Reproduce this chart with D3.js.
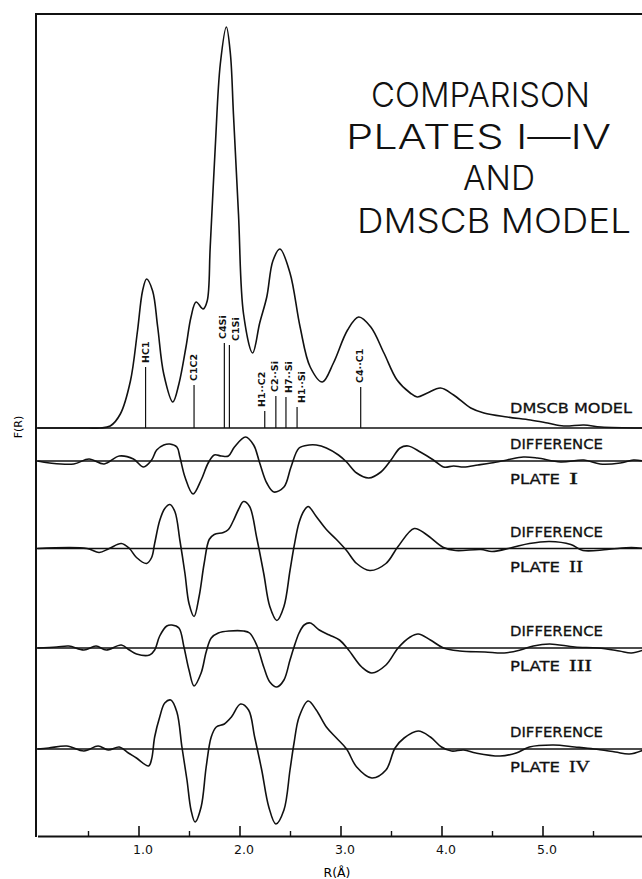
<!DOCTYPE html>
<html>
<head>
<meta charset="utf-8">
<script src="https://cdn.jsdelivr.net/npm/d3@7"></script>
<style>
  html, body { margin: 0; padding: 0; background: #fff; }
  svg { display: block; }
  .title { font-family: Inter, "Liberation Sans", Arial, sans-serif; font-weight: 300; font-size: 34px; fill: #111; }
  .tag { font-family: "DejaVu Sans", sans-serif; font-size: 14.5px; fill: #111; stroke: #111; stroke-width: 0.3px; }
  .numeral { font-family: "Liberation Serif", "DejaVu Serif", serif; font-size: 16px; fill: #111; stroke: #111; stroke-width: 0.3px; }
  .stick-label { font-family: "DejaVu Sans", sans-serif; font-size: 9.5px; font-weight: bold; fill: #111; }
  .axis text { font-family: "DejaVu Sans", sans-serif; font-size: 12.5px; fill: #111; }
</style>
</head>
<body>
<svg id="chart" width="642" height="879"></svg>
<script>
// R (Angstrom) ticks
const majorTicks = [1, 2, 3, 4, 5];
const minorTicks = [0.5, 1.5, 2.5, 3.5, 4.5, 5.5];

// DMSCB model radial distribution curve
const modelR = [0, 0.5, 0.62, 0.72, 0.82, 0.92, 0.99, 1.04, 1.08, 1.14, 1.19, 1.25, 1.34, 1.40, 1.47, 1.52, 1.57, 1.64, 1.68, 1.71, 1.76, 1.81, 1.87, 1.91, 1.94, 1.99, 2.04, 2.13, 2.20, 2.27, 2.33, 2.40, 2.50, 2.60, 2.70, 2.82, 2.93, 3.07, 3.18, 3.30, 3.43, 3.56, 3.69, 3.76, 3.86, 3.99, 4.12, 4.29, 4.42, 4.65, 4.88, 5.05, 5.21, 5.41, 5.58, 6.0];
const modelF = [0, 0, 0, 0.2, 1.4, 4.7, 9.7, 13.7, 14.9, 13.7, 10.1, 5.4, 2.6, 4.4, 8.1, 11.1, 12.6, 11.9, 12.7, 18.1, 28.1, 36.4, 40.1, 37.4, 31.4, 21.4, 11.4, 7.5, 10.5, 13.1, 16.7, 17.9, 15.5, 10.1, 6.1, 4.6, 6.5, 9.8, 11.1, 10.1, 7.5, 4.8, 3.5, 3.1, 3.5, 4.0, 3.3, 2.0, 1.5, 1.1, 0.8, 0.5, 0.2, 0.3, 0.1, 0];

// model distances (stick lines)
const stickLabels = ["HC1", "C1C2", "C4Si", "C1Si", "H1··C2", "C2··Si", "H7··Si", "H1··Si", "C4··C1"];
const stickR = [1.07, 1.55, 1.85, 1.90, 2.25, 2.36, 2.46, 2.57, 3.20];
const stickF = [6.1, 4.3, 8.5, 8.3, 1.7, 3.2, 3.1, 2.1, 4.1];

// difference curves, plate minus model
const plateNames = ["I", "II", "III", "IV"];
const p1R = [0, 0.12, 0.36, 0.51, 0.66, 0.81, 0.95, 1.05, 1.13, 1.18, 1.25, 1.31, 1.38, 1.41, 1.46, 1.54, 1.62, 1.69, 1.75, 1.82, 1.89, 1.95, 2.06, 2.14, 2.20, 2.27, 2.34, 2.44, 2.51, 2.59, 2.69, 2.76, 2.86, 2.98, 3.06, 3.16, 3.28, 3.40, 3.50, 3.59, 3.67, 3.79, 3.92, 4.02, 4.12, 4.22, 4.36, 4.49, 4.65, 4.81, 4.95, 5.18, 5.41, 5.57, 5.77, 5.90, 6.0];
const p1D = [0, -0.2, -0.3, 0.2, -0.3, 0.5, 0.2, -0.6, 0.1, 1.1, 1.6, 1.7, 1.4, 0.4, -1.6, -3.3, -1.9, -0.2, 0.6, 0.5, 0.5, 1.4, 2.4, 1.6, -0.2, -2.2, -3.1, -2.6, -0.6, 1.3, 1.6, 1.6, 1.3, 0.6, -0.1, -1.2, -1.7, -1.1, 0.1, 1.3, 1.5, 0.9, 0.1, -0.6, -0.5, -0.6, -0.4, -0.2, 0.1, 0.4, 0.3, -0.1, 0.1, -0.3, -0.2, 0.1, 0];
const p2R = [0, 0.49, 0.61, 0.71, 0.83, 0.91, 0.98, 1.08, 1.13, 1.16, 1.21, 1.26, 1.31, 1.36, 1.41, 1.46, 1.50, 1.55, 1.60, 1.65, 1.70, 1.75, 1.84, 1.89, 1.94, 1.99, 2.04, 2.10, 2.17, 2.24, 2.30, 2.37, 2.44, 2.50, 2.54, 2.59, 2.64, 2.68, 2.76, 2.86, 2.96, 3.06, 3.16, 3.29, 3.45, 3.57, 3.73, 3.85, 4.02, 4.14, 4.39, 4.50, 4.70, 4.87, 5.07, 5.28, 5.40, 5.64, 5.88, 6.0];
const p2D = [0, 0, -0.4, 0.0, 0.5, 0, -0.9, -1.5, -0.9, 0.5, 2.8, 4.0, 4.4, 3.7, 0.8, -2.5, -5.5, -6.8, -4.8, -1.5, 0.9, 1.4, 1.6, 1.9, 2.8, 3.9, 4.7, 4.2, 1.1, -2.5, -5.8, -7.2, -5.8, -2.2, 0.2, 2.6, 3.8, 4.2, 3.2, 1.9, 0.9, -0.2, -1.5, -2.2, -1.5, 0.2, 2.0, 1.4, 0.1, -0.2, -0.1, -0.3, 0.1, 0.5, 0.7, 0.4, -0.2, -0.1, 0.1, 0];
const p3R = [0, 0.19, 0.31, 0.46, 0.58, 0.68, 0.83, 0.91, 0.98, 1.11, 1.16, 1.21, 1.28, 1.33, 1.40, 1.45, 1.50, 1.55, 1.62, 1.67, 1.72, 1.79, 1.90, 2.04, 2.10, 2.17, 2.24, 2.30, 2.37, 2.44, 2.50, 2.54, 2.59, 2.64, 2.70, 2.79, 2.89, 2.99, 3.08, 3.21, 3.31, 3.45, 3.57, 3.69, 3.77, 3.89, 4.02, 4.18, 4.43, 4.62, 4.78, 4.91, 5.07, 5.32, 5.55, 5.76, 5.88, 6.0];
const p3D = [0, 0.1, 0.2, -0.2, 0.2, -0.2, 0.3, -0.2, -0.6, -0.7, -0.2, 1.2, 2.2, 2.3, 2.0, 0.1, -2.2, -3.8, -2.5, -0.4, 1.0, 1.5, 1.7, 1.7, 1.5, 0.3, -1.9, -3.4, -3.9, -3.2, -1.2, 0.1, 1.5, 2.3, 2.5, 1.8, 1.3, 0.8, -0.2, -1.9, -2.5, -1.7, 0.0, 1.1, 1.4, 0.8, 0.0, -0.3, -0.4, -0.5, -0.2, 0.2, 0.4, 0.1, 0.0, -0.3, -0.5, -0.2];
const p4R = [0, 0.11, 0.29, 0.46, 0.60, 0.70, 0.81, 0.90, 0.98, 1.10, 1.13, 1.16, 1.21, 1.26, 1.32, 1.38, 1.43, 1.48, 1.52, 1.56, 1.62, 1.67, 1.72, 1.77, 1.85, 1.92, 2.01, 2.09, 2.15, 2.22, 2.29, 2.36, 2.44, 2.50, 2.54, 2.59, 2.68, 2.76, 2.86, 2.96, 3.06, 3.16, 3.31, 3.45, 3.54, 3.63, 3.77, 3.89, 4.00, 4.10, 4.22, 4.34, 4.58, 4.74, 4.87, 5.11, 5.32, 5.51, 5.72, 5.86, 6.0];
const p4D = [0, 0.1, 0.3, -0.2, 0.3, -0.1, 0.2, -0.4, -0.9, -1.7, -1.0, 1.2, 3.2, 4.6, 4.9, 3.7, 0.2, -3.1, -6.1, -7.3, -5.8, -1.8, 1.2, 2.2, 2.5, 3.2, 4.5, 3.9, 1.2, -2.1, -5.8, -7.5, -6.1, -2.1, 0.6, 3.2, 4.8, 3.9, 2.2, 1.1, 0.0, -1.8, -2.9, -2.1, 0.1, 1.1, 1.8, 1.2, 0.2, -0.2, -0.1, -0.4, -0.7, -0.4, 0.2, 0.4, 0.2, 0.0, -0.3, -0.5, -0.1];

// vertical offsets of each trace, in F(R) units
const modelOffset = 40.8;
const plateOffsets = [37.5, 28.75, 18.8, 8.7];

const svg = d3.select('#chart');
const x = d3.scaleLinear().domain([0, 6]).range([37.5, 643.5]);
const y = d3.scaleLinear().domain([0, 82.2]).range([836, 14]);

const left = 36, right = 642;

// frame: top rule and left axis
svg.append('line').attr('x1', left).attr('x2', right).attr('y1', 14).attr('y2', 14)
    .attr('stroke', '#111').attr('stroke-width', 2);
svg.append('line').attr('x1', left).attr('x2', left).attr('y1', 13).attr('y2', 837)
    .attr('stroke', '#111').attr('stroke-width', 2);

// bottom axis, ticks pointing inward
const xAxis = svg.append('g').attr('class', 'axis').attr('transform', 'translate(0,836)')
    .call(d3.axisBottom(x).tickValues(majorTicks).tickFormat(d3.format('.1f'))
        .tickSizeInner(-10).tickSizeOuter(0).tickPadding(9));
xAxis.select('.domain').attr('stroke', '#111').attr('stroke-width', 2.2);
xAxis.selectAll('.tick line').attr('stroke', '#111').attr('stroke-width', 1.6);
xAxis.selectAll('.tick text').attr('dx', 4);

const xMinor = svg.append('g').attr('transform', 'translate(0,836)')
    .call(d3.axisBottom(x).tickValues(minorTicks).tickFormat('')
        .tickSizeInner(-5).tickSizeOuter(0));
xMinor.select('.domain').remove();
xMinor.selectAll('.tick line').attr('stroke', '#111').attr('stroke-width', 1.4);

svg.append('text').attr('class', 'axis-title')
    .attr('x', 337).attr('y', 877).attr('text-anchor', 'middle')
    .style('font-family', '"DejaVu Sans", sans-serif').style('font-size', '12.5px')
    .text('R(Å)');
svg.append('text')
    .attr('transform', 'translate(22,427) rotate(-90)').attr('text-anchor', 'middle')
    .style('font-family', '"DejaVu Sans", sans-serif').style('font-size', '11px')
    .text('F(R)');

const line = off => d3.line()
    .x(d => x(d[0]))
    .y(d => y(off + d[1]))
    .curve(d3.curveCatmullRom.alpha(0.5));

// baselines
const baselines = [modelOffset].concat(plateOffsets);
svg.selectAll('.baseline').data(baselines).enter().append('line')
    .attr('class', 'baseline')
    .attr('x1', left).attr('x2', right)
    .attr('y1', d => y(d)).attr('y2', d => y(d))
    .attr('stroke', '#111').attr('stroke-width', 1.5);

// model curve
svg.append('path')
    .datum(d3.zip(modelR, modelF))
    .attr('d', line(modelOffset))
    .attr('fill', 'none').attr('stroke', '#111').attr('stroke-width', 1.6);

// sticks and their labels
const labelNudge = [0, 0, -2, 6, -3, -1, 3, 5, -1];
const sticks = svg.selectAll('.stick').data(d3.range(stickR.length)).enter()
    .append('g').attr('class', 'stick');
sticks.append('line')
    .attr('x1', i => x(stickR[i])).attr('x2', i => x(stickR[i]))
    .attr('y1', y(modelOffset)).attr('y2', i => y(modelOffset + stickF[i]))
    .attr('stroke', '#111').attr('stroke-width', 1.2);
sticks.append('text').attr('class', 'stick-label')
    .attr('transform', i => `translate(${x(stickR[i]) + labelNudge[i]},${y(modelOffset + stickF[i]) - 4}) rotate(-90)`)
    .attr('dy', '0.35em')
    .text(i => stickLabels[i]);

// difference curves
const plateR = [p1R, p2R, p3R, p4R];
const plateD = [p1D, p2D, p3D, p4D];
const numeralW = [9, 14, 23, 21];
plateNames.forEach((name, i) => {
    const off = plateOffsets[i];
    svg.append('path')
        .datum(d3.zip(plateR[i], plateD[i]))
        .attr('class', 'plate-' + name)
        .attr('d', line(off))
        .attr('fill', 'none').attr('stroke', '#111').attr('stroke-width', 1.6);
    svg.append('text').attr('class', 'tag')
        .attr('x', 510).attr('y', y(off) - 12)
        .attr('textLength', 93).attr('lengthAdjust', 'spacingAndGlyphs')
        .text('DIFFERENCE');
    svg.append('text').attr('class', 'tag')
        .attr('x', 510).attr('y', y(off) + 23)
        .attr('textLength', 50).attr('lengthAdjust', 'spacingAndGlyphs')
        .text('PLATE');
    svg.append('text').attr('class', 'numeral')
        .attr('x', 569).attr('y', y(off) + 23)
        .attr('textLength', numeralW[i]).attr('lengthAdjust', 'spacingAndGlyphs')
        .text(name);
});

svg.append('text').attr('class', 'tag')
    .attr('x', 510).attr('y', 413)
    .attr('textLength', 122).attr('lengthAdjust', 'spacingAndGlyphs')
    .text('DMSCB  MODEL');

// title block
const titleLines = ['COMPARISON', 'PLATES  Ⅰ—Ⅳ', 'AND', 'DMSCB  MODEL'];
const titleX = [371, 346, 463, 357];
const titleY = [107, 149, 190, 233];
const titleW = [219, 265, 72, 274];
svg.selectAll('.title').data(titleLines).enter().append('text')
    .attr('class', 'title')
    .attr('x', (d, i) => titleX[i]).attr('y', (d, i) => titleY[i])
    .attr('textLength', (d, i) => titleW[i]).attr('lengthAdjust', 'spacingAndGlyphs')
    .text(d => d);
</script>
</body>
</html>
